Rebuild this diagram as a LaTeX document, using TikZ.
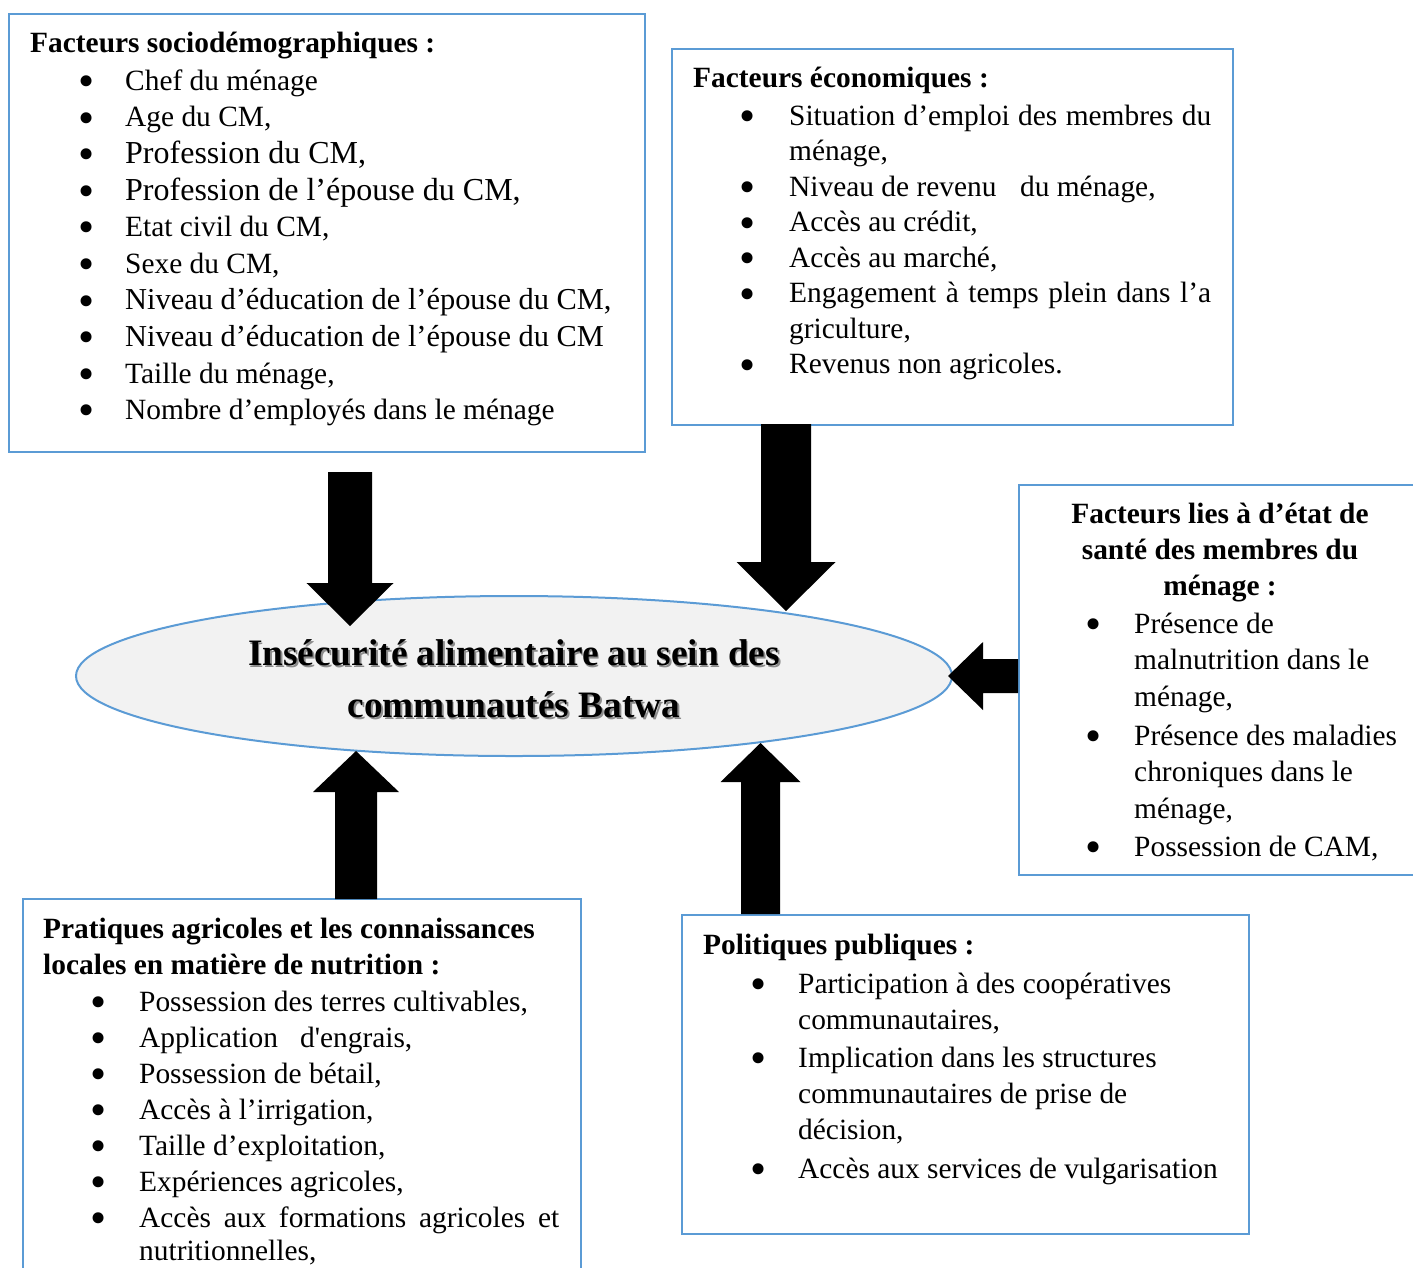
\documentclass[tikz,border=0pt]{standalone}
\usepackage{fontspec}
\setmainfont{Liberation Serif}[Ligatures=TeXOff]
\definecolor{bordblue}{HTML}{5B9BD5}
\definecolor{ellfill}{HTML}{F2F2F2}
\newcommand{\bu}[2]{\makebox[#1][l]{\hspace*{\dimexpr#2-3bp\relax}\raisebox{-6.3bp}{\fontsize{46bp}{46bp}\selectfont\textbullet}}}
\newcommand{\ind}[1]{\makebox[#1]{}}
\newcommand{\just}[2]{\makebox[#1][s]{#2}}
\newcommand{\largeline}[1]{{\fontsize{32bp}{36bp}\selectfont #1}}
\newcommand{\midline}[1]{{\fontsize{30.4bp}{36bp}\selectfont #1}}
\newcommand{\varrow}[6]{\fill (#1-#5,#2) -- (#1+#5,#2) -- (#1+#5,#3) -- (#1+#6,#3) -- (#1,#4) -- (#1-#6,#3) -- (#1-#5,#3) -- cycle;}
\newcommand{\harrow}[6]{\fill (#2,#1-#5) -- (#2,#1+#5) -- (#3,#1+#5) -- (#3,#1+#6) -- (#4,#1) -- (#3,#1-#6) -- (#3,#1-#5) -- cycle;}
\begin{document}
\begin{tikzpicture}[x=1bp,y=-1bp,
  box/.style={draw=bordblue, line width=2bp, anchor=north west, inner sep=0pt},
  txt/.style={anchor=north west, inner sep=0pt, align=left, font=\fontsize{29.4bp}{#1}\selectfont},
  txt/.default=36bp,
  ttl/.style={inner sep=0pt, align=center, anchor=north, font=\fontsize{37.3bp}{52bp}\selectfont\bfseries}]
\useasboundingbox (0,0) rectangle (1413,1267);
% boxes
\node[box, minimum width=636bp, minimum height=438bp] (b1) at (8,13) {};
\node[box, minimum width=561bp, minimum height=376bp] (b2) at (671,48) {};
\node[box, minimum width=410bp, minimum height=390bp] (b3) at (1018,484) {};
\node[box, minimum width=558bp, minimum height=400bp] (b4) at (22,898) {};
\node[box, minimum width=567bp, minimum height=319bp] (b5) at (681,914) {};
% ellipse
\draw[draw=bordblue, line width=2bp, fill=ellfill] (514,676) ellipse [x radius=438, y radius=80];
\node[ttl, text=black!45] (tshadow) at (515.8,630.4) {\strut Insécurité alimentaire au sein des\\communautés Batwa};
\node[ttl] (title) at (514,628.6) {\strut Insécurité alimentaire au sein des\\communautés Batwa};
% box 1 text
\node[txt=36.6bp] (t1) at (30,26.4) {\strut\textbf{Facteurs sociodémographiques :}\\[1.4bp]
\bu{95bp}{51bp}Chef du ménage\\
\bu{95bp}{51bp}Age du CM,\\
\bu{95bp}{51bp}\largeline{Profession du CM,}\\
\bu{95bp}{51bp}\largeline{Profession de l’épouse du CM,}\\
\bu{95bp}{51bp}Etat civil du CM,\\
\bu{95bp}{51bp}Sexe du CM,\\
\bu{95bp}{51bp}\midline{Niveau d’éducation de l’épouse du CM,}\\
\bu{95bp}{51bp}\midline{Niveau d’éducation de l’épouse du CM}\\
\bu{95bp}{51bp}Taille du ménage,\\
\bu{95bp}{51bp}Nombre d’employés dans le ménage};
% box 2 text
\node[txt=35.5bp] (t2) at (693,62.15) {\strut\textbf{Facteurs économiques :}\\[2.5bp]
\bu{96bp}{49bp}\just{422bp}{Situation d’emploi des membres du}\\
\ind{96bp}ménage,\\
\bu{96bp}{49bp}Niveau de revenu\hspace{0.8em}du ménage,\\
\bu{96bp}{49bp}Accès au crédit,\\
\bu{96bp}{49bp}Accès au marché,\\
\bu{96bp}{49bp}\just{422bp}{Engagement à temps plein dans l’a}\\
\ind{96bp}griculture,\\
\bu{96bp}{49bp}Revenus non agricoles.};
% box 3 text
\node[txt=36bp, align=center, anchor=north] (t3h) at (1220,497.8) {\strut\textbf{Facteurs lies à d’état de}\\
\textbf{santé des membres du}\\
\textbf{ménage :}};
\node[txt=36.5bp] (t3) at (1040,607.45) {\strut\bu{94bp}{48bp}Présence de\\
\ind{94bp}malnutrition dans le\\
\ind{94bp}ménage,\\[2.5bp]
\bu{94bp}{48bp}Présence des maladies\\
\ind{94bp}chroniques dans le\\
\ind{94bp}ménage,\\[1.5bp]
\bu{94bp}{48bp}Possession de CAM,};
% box 4 text
\node[txt=36bp] (t4) at (43,912.8) {\strut\textbf{Pratiques agricoles et les connaissances}\\
\textbf{locales en matière de nutrition :}\\[1bp]
\bu{96bp}{50bp}Possession des terres cultivables,\\
\bu{96bp}{50bp}Application\hspace{0.75em}d'engrais,\\
\bu{96bp}{50bp}Possession de bétail,\\
\bu{96bp}{50bp}Accès à l’irrigation,\\
\bu{96bp}{50bp}Taille d’exploitation,\\
\bu{96bp}{50bp}Expériences agricoles,\\
\bu{96bp}{50bp}\just{420bp}{Accès aux formations agricoles et}\\[-3bp]
\ind{96bp}nutritionnelles,};
% box 5 text
\node[txt=36bp] (t5) at (703,928.8) {\strut\textbf{Politiques publiques :}\\[3bp]
\bu{95bp}{50bp}Participation à des coopératives\\
\ind{95bp}communautaires,\\[2bp]
\bu{95bp}{50bp}Implication dans les structures\\
\ind{95bp}communautaires de prise de\\
\ind{95bp}décision,\\[3bp]
\bu{95bp}{50bp}Accès aux services de vulgarisation};
% block arrows
\varrow{350}{472}{583}{626}{22}{43.5}
\varrow{786}{424}{562}{611}{25}{49.5}
\harrow{676}{1018}{983}{948}{17}{34}
\varrow{356}{899}{792}{751}{21}{43}
\varrow{760.5}{914}{782}{743}{19.5}{40}
\end{tikzpicture}
\end{document}
